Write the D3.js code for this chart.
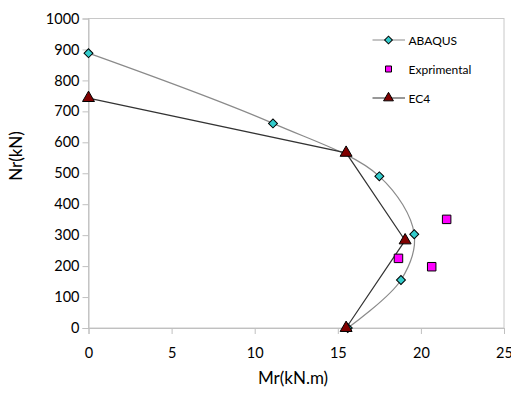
<!DOCTYPE html>
<html>
<head>
<meta charset="utf-8">
<script src="https://cdn.jsdelivr.net/npm/d3@7"></script>
<style>
  body { margin: 0; background: #fff; }
  svg { display: block; font-family: Lato, "Open Sans", sans-serif; }
</style>
</head>
<body>
<script>
const W = 511, H = 393;

// values
const abaqusMr = [0, 11.1, 17.5, 19.6, 18.8, 15.6];
const abaqusNr = [888, 661, 490, 303, 155, 0];
const expMr = [21.55, 18.65, 20.65];
const expNr = [351, 225, 198];
const ec4Mr = [0, 15.5, 19.05, 15.5];
const ec4Nr = [743, 566, 283, 0];
const xTicks = [0, 5, 10, 15, 20, 25];
const yTicks = [0, 100, 200, 300, 400, 500, 600, 700, 800, 900, 1000];
const legendNames = ["ABAQUS", "Exprimental", "EC4"];

const svg = d3.select("body").append("svg")
  .attr("width", W).attr("height", H);

const x = d3.scaleLinear().domain([0, 25]).range([88.5, 504]);
const y = d3.scaleLinear().domain([0, 1000]).range([328, 18.5]);

// plot area frame
svg.append("rect")
  .attr("x", x(0)).attr("y", y(1000))
  .attr("width", x(25) - x(0)).attr("height", y(0) - y(1000))
  .attr("fill", "none").attr("stroke", "#c8c8c8");

const xAxis = svg.append("g")
  .attr("transform", `translate(0,${y(0)})`)
  .call(d3.axisBottom(x).tickValues(xTicks).tickFormat(d3.format("d")).tickSize(6).tickPadding(14));
const yAxis = svg.append("g")
  .attr("transform", `translate(${x(0)},0)`)
  .call(d3.axisLeft(y).tickValues(yTicks).tickFormat(d3.format("d")).tickSize(6).tickPadding(3));

[xAxis, yAxis].forEach(g => {
  g.select(".domain").attr("stroke", "#c0c0c0");
  g.selectAll(".tick line").attr("stroke", "#c0c0c0");
  g.selectAll(".tick text")
    .attr("fill", "#000")
    .style("font-size", "14.5px")
    .style("font-family", "Lato, sans-serif");
});

svg.append("text")
  .attr("x", 293).attr("y", 384)
  .attr("text-anchor", "middle")
  .style("font-size", "17px").attr("fill", "#000")
  .text("Mr(kN.m)");
svg.append("text")
  .attr("transform", "translate(22,156) rotate(-90)")
  .attr("text-anchor", "middle")
  .style("font-size", "17px").attr("fill", "#000")
  .text("Nr(kN)");

const abaqus = abaqusMr.map((d, i) => [d, abaqusNr[i]]);
const exp = expMr.map((d, i) => [d, expNr[i]]);
const ec4 = ec4Mr.map((d, i) => [d, ec4Nr[i]]);

const smooth = d3.line().x(d => x(d[0])).y(d => y(d[1])).curve(d3.curveCatmullRom.alpha(0.5));
const straight = d3.line().x(d => x(d[0])).y(d => y(d[1]));

svg.append("path").attr("d", smooth(abaqus))
  .attr("fill", "none").attr("stroke", "#8a8a8a").attr("stroke-width", 1.2);
svg.append("path").attr("d", straight(ec4))
  .attr("fill", "none").attr("stroke", "#333").attr("stroke-width", 1.2);

const diamond = d3.symbol().type(d3.symbolSquare).size(40);
const square = d3.symbol().type(d3.symbolSquare).size(72);
const triangle = d3.symbol().type(d3.symbolTriangle).size(62);

function markers(data, sym, fill, rot) {
  svg.append("g").selectAll("path").data(data).join("path")
    .attr("d", sym)
    .attr("transform", d => `translate(${x(d[0])},${y(d[1])}) rotate(${rot})`)
    .attr("fill", fill).attr("stroke", "#000").attr("stroke-width", 1);
}
markers(abaqus, diamond, "#33cccc", 45);
markers(exp, square, "#ff00ff", 0);
markers(ec4, triangle, "#800000", 0);

// legend
const lg = svg.append("g");
const rows = [40, 69, 98];
const lineCol = ["#8a8a8a", null, "#333"];
const syms = [
  [d3.symbol().type(d3.symbolSquare).size(30), "#33cccc", 45],
  [d3.symbol().type(d3.symbolSquare).size(36), "#ff00ff", 0],
  [d3.symbol().type(d3.symbolTriangle).size(42), "#800000", 0]
];
legendNames.forEach((name, i) => {
  if (lineCol[i]) {
    lg.append("line").attr("x1", 372.5).attr("x2", 405)
      .attr("y1", rows[i]).attr("y2", rows[i])
      .attr("stroke", lineCol[i]).attr("stroke-width", 1.2);
  }
  lg.append("path").attr("d", syms[i][0])
    .attr("transform", `translate(388.5,${rows[i]}) rotate(${syms[i][2]})`)
    .attr("fill", syms[i][1]).attr("stroke", "#000").attr("stroke-width", 1);
  lg.append("text").attr("x", 408.5).attr("y", rows[i] + 4.5)
    .style("font-size", "12px").attr("fill", "#000")
    .text(name);
});
</script>
</body>
</html>
